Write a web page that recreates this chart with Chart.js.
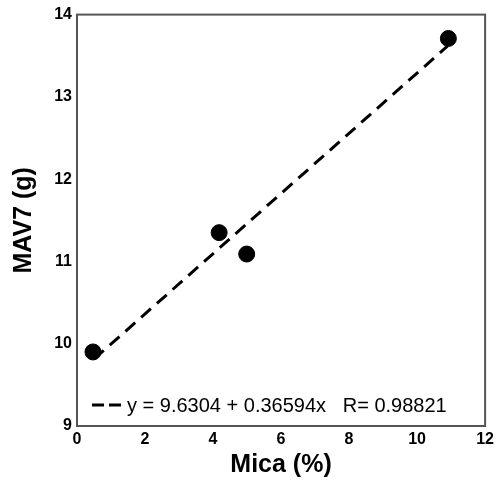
<!DOCTYPE html>
<html>
<head>
<meta charset="utf-8">
<script src="https://cdn.jsdelivr.net/npm/chart.js@4"></script>
<style>
  html, body { margin: 0; padding: 0; background: #fff; }
  #wrap { width: 498px; height: 480px; }
</style>
</head>
<body>
<div id="wrap"><canvas id="chart" width="498" height="480"></canvas></div>
<script>
// measured points
const micaPct = [0.47, 4.18, 4.99, 10.92];
const mav7 = [9.90, 11.35, 11.09, 13.71];

// fit line ends (y = 9.6304 + 0.36594x)
const fitX = [0.5, 10.9];
const fitY = [9.813, 13.619];
const fitLabel = "y = 9.6304 + 0.36594x   R= 0.98821";

const xTicks = [0, 2, 4, 6, 8, 10, 12];
const yTicks = [9, 10, 11, 12, 13, 14];

const FONT = '"Liberation Sans", Arial, sans-serif';

const frame = {
    id: 'frame',
    afterDraw(chart) {
        const { ctx, chartArea: a } = chart;
        ctx.save();
        ctx.strokeStyle = '#555';
        ctx.lineWidth = 2;
        ctx.strokeRect(a.left, a.top, a.right - a.left, a.bottom - a.top);

        // legend inside the plot, bottom left
        const y = a.bottom - 21;
        ctx.strokeStyle = '#000';
        ctx.lineWidth = 3;
        ctx.setLineDash([12, 5]);
        ctx.beginPath();
        ctx.moveTo(a.left + 15, y);
        ctx.lineTo(a.left + 44, y);
        ctx.stroke();
        ctx.setLineDash([]);
        ctx.fillStyle = '#000';
        ctx.font = '20px ' + FONT;
        ctx.textBaseline = 'middle';
        ctx.fillText(fitLabel, a.left + 50, y + 1);
        ctx.restore();
    }
};

new Chart(document.getElementById('chart'), {
    type: 'scatter',
    data: {
        datasets: [
            {
                label: 'MAV7',
                data: micaPct.map((x, i) => ({ x: x, y: mav7[i] })),
                backgroundColor: '#000',
                borderColor: '#000',
                pointRadius: 8,
                pointHoverRadius: 8
            },
            {
                label: fitLabel,
                type: 'line',
                data: fitX.map((x, i) => ({ x: x, y: fitY[i] })),
                borderColor: '#000',
                borderWidth: 3,
                borderDash: [13, 8],
                pointRadius: 0,
                fill: false
            }
        ]
    },
    options: {
        responsive: false,
        animation: false,
        layout: { padding: { top: 14, right: 0, left: 9, bottom: 0 } },
        plugins: { legend: { display: false }, tooltip: { enabled: false } },
        scales: {
            x: {
                type: 'linear', min: 0, max: 12,
                afterBuildTicks: s => { s.ticks = xTicks.map(v => ({ value: v })); },
                afterFit: s => { s.height = 54; },
                grid: { display: false, drawTicks: false, tickLength: 0 },
                border: { display: false },
                ticks: { color: '#000', padding: 4, font: { family: FONT, size: 16, weight: 'bold' } },
                title: { display: true, text: 'Mica (%)', color: '#000', padding: 0,
                    font: { family: FONT, size: 25, weight: 'bold' } }
            },
            y: {
                type: 'linear', min: 9, max: 14,
                afterBuildTicks: s => { s.ticks = yTicks.map(v => ({ value: v })); },
                afterFit: s => { s.width = 68; },
                grid: { display: false, drawTicks: false, tickLength: 0 },
                border: { display: false },
                ticks: { color: '#000', padding: 5, font: { family: FONT, size: 16, weight: 'bold' } },
                title: { display: true, text: 'MAV7 (g)', color: '#000', padding: 0,
                    font: { family: FONT, size: 25, weight: 'bold' } }
            }
        }
    },
    plugins: [frame]
});
</script>
</body>
</html>
